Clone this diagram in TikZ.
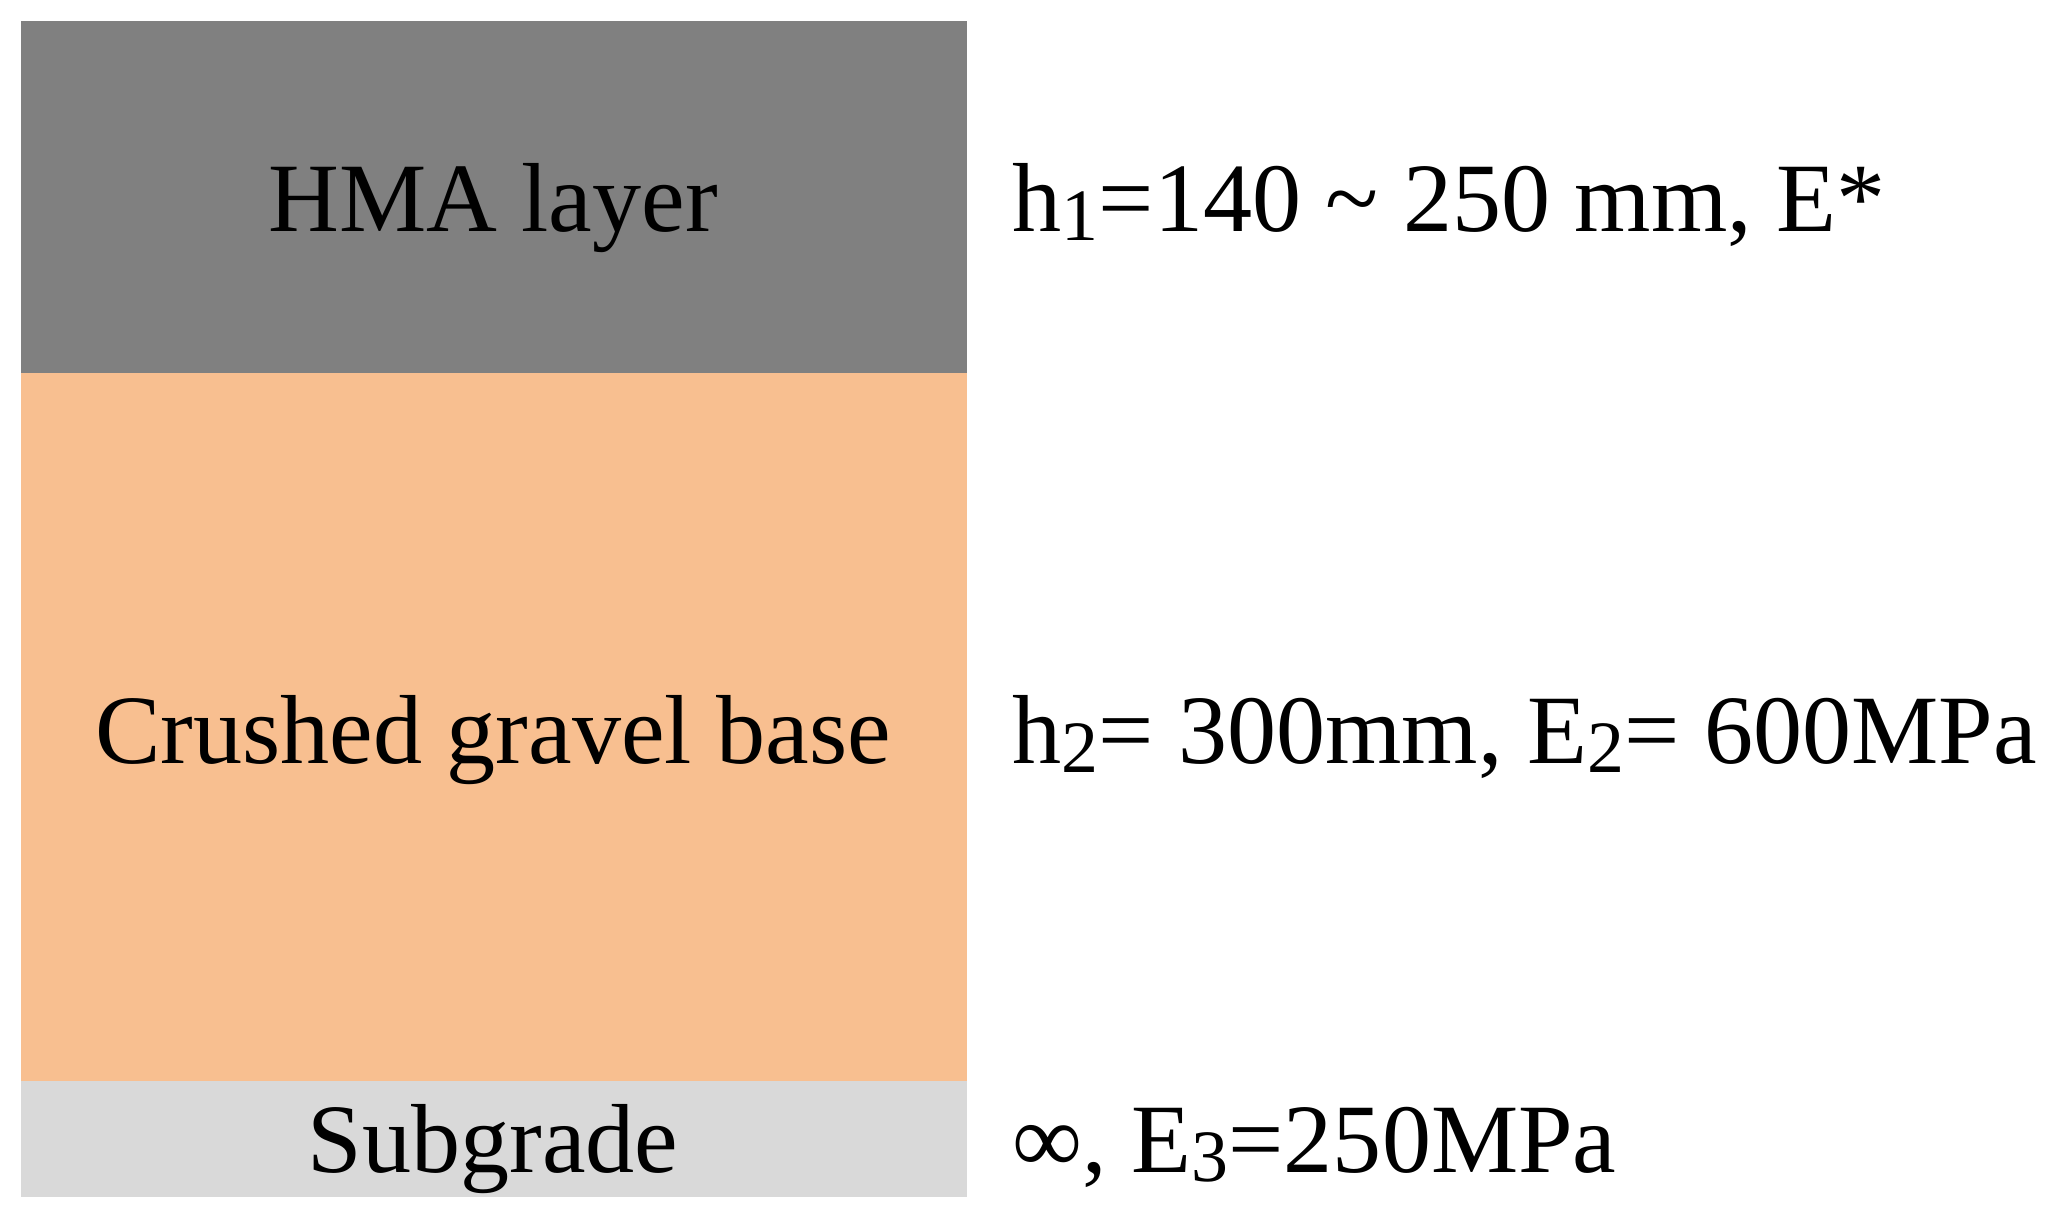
\documentclass[tikz,border=0pt]{standalone}
\usepackage{fontspec}
\setmainfont{Liberation Serif}
\usetikzlibrary{positioning}

\definecolor{hmagray}{HTML}{808080}
\definecolor{basetan}{HTML}{F8BF90}
\definecolor{subgray}{HTML}{D9D9D9}
\newcommand{\lsub}[1]{\raisebox{-0.1em}{\fontsize{21}{24}\selectfont #1}}

\begin{document}
\begin{tikzpicture}[x=0.01cm, y=-0.01cm, font=\fontsize{27.9}{32}\selectfont,
    layer/.style={rectangle, inner sep=0pt, anchor=north west, minimum width=9.46cm},
    props/.style={anchor=base west, inner sep=0pt}]
  \useasboundingbox (0,0) rectangle (2069,1224);
  \node[layer, fill=hmagray, minimum height=3.54cm] (hma) at (20,20) {};
  \node[layer, fill=basetan, minimum height=7.09cm] (base) at ([yshift=0.3mm]hma.south west) {};
  \node[layer, fill=subgray, minimum height=1.16cm] (sub) at ([yshift=0.3mm]base.south west) {};
  \node[anchor=base, inner sep=0pt] (hmatext) at (493,231) {HMA layer};
  \node[anchor=base, inner sep=0pt] (basetext) at (493,763) {Crushed gravel base};
  \node[anchor=base, inner sep=0pt] (subtext) at (493,1172) {Subgrade};
  \node[props] (hmaprops) at (1012,231) {h\lsub{1}=140 \textasciitilde{} 250 mm, E*};
  \node[props] (baseprops) at (1012,763) {h\lsub{2}= 300mm, E\lsub{2}= 600MPa};
  \node[props] (subprops) at (1012,1172) {∞, E\lsub{3}=250MPa};
\end{tikzpicture}
\end{document}
